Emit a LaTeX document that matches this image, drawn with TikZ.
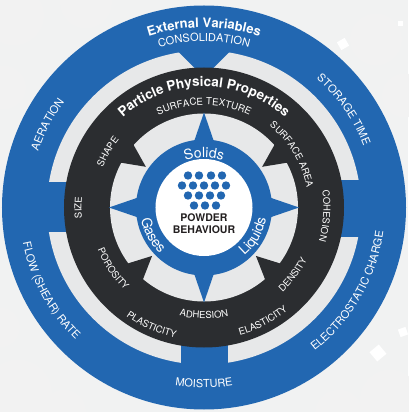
\documentclass[tikz,border=0pt]{standalone}
\usepackage{fontspec}
\setmainfont{TeX Gyre Heros}
\usetikzlibrary{decorations.text}

\definecolor{ringblue}{HTML}{2267B1}
\definecolor{ringdark}{HTML}{2B2D30}
\definecolor{ringgray}{HTML}{E7E8E9}
\definecolor{bggray}{HTML}{F1F2F2}
\definecolor{inkdark}{HTML}{231F20}

% text on a circle: angle, baseline radius, font, text
\newcommand{\cwtext}[4]{%
  \path[decorate,decoration={text along path,text align=center,text color=white,text={|#3|#4}}]
    ({#1+80}:#2) arc[start angle={#1+80},end angle={#1-80},radius=#2];}
\newcommand{\ccwtext}[4]{%
  \path[decorate,decoration={text along path,text align=center,text color=white,text={|#3|#4}}]
    ({#1-80}:#2) arc[start angle={#1-80},end angle={#1+80},radius=#2];}

\begin{document}
\begin{tikzpicture}[x=1pt,y=1pt,
  bokeh/.style={fill=black!5},
  fleck/.style={fill=white},
  pointer/.style={fill=ringblue},
  notch/.style={fill=ringdark},
  grain/.style={circle,fill=ringblue,inner sep=0pt,minimum size=8.4pt}]
  \useasboundingbox[fill=bggray] (-204,-204.5) rectangle (204,207.5);
  % background
  \foreach \x/\y/\r in {-190/192/30pt,-118/205/26pt,-200/120/22pt,172/168/26pt,200/112/22pt,
    -186/-186/34pt,-140/-204/22pt,186/-192/30pt,135/-206/24pt,-204/-120/20pt}
    \fill[bokeh] (\x,\y) circle[radius=\r];
  \foreach \x/\y/\s/\a in {139/163.5/9pt/30,196/183.5/5pt/0,174/-145.5/12pt/40,199/-124.5/8pt/20}
    \fill[fleck,rotate around={\a:(\x,\y)}] (\x,\y) ++(-\s/2,-\s/2) rectangle ++(\s,\s);

  % outer ring
  \fill[ringblue] (0,0) circle[radius=202pt];
  \fill[ringgray] (0,0) circle[radius=157pt];
  \fill[pointer] (-30,160) -- (30,160) -- (8,138) -- (-8,138) -- cycle;
  \fill[pointer] (-160,-25) rectangle (-135,25);
  \fill[pointer] (135,-29) rectangle (160,27);
  \fill[pointer] (-23,-160) rectangle (24,-135);

  % particle ring
  \fill[ringdark] (0,0) circle[radius=140pt];
  \fill[ringgray] (0,0) circle[radius=94pt];
  \foreach \a in {0,90,180,270}
    \fill[pointer,rotate=\a] (95,0) -- (60,12) -- (60,-12) -- cycle;
  \foreach \a in {35,145,223,317}
    \fill[notch,rotate=\a] (71,0) -- (98,13) -- (98,-13) -- cycle;

  % centre
  \fill[ringblue] (0,0) circle[radius=68pt];
  \fill[white] (0,0) circle[radius=48.5pt];
  \foreach \x/\y [count=\i] in {-16/32,-5/32,7/32,18/32,-22/22,-11/22,0/22,11/22,22/22,
    -16/12,-5/12,6/12,17/12,-10/2,1/2,12/2}
    \node[grain] (grain\i) at (\x,\y) {};
  \node[font=\bfseries\fontsize{10.5}{12.5}\selectfont,text=inkdark,align=center] (powder) at (0,-16) {POWDER\\BEHAVIOUR};

  \cwtext{90}{50pt}{\fontsize{14}{16}\selectfont}{Solids}
  \ccwtext{208.5}{64pt}{\fontsize{14}{16}\selectfont}{Gases}
  \ccwtext{330}{63pt}{\fontsize{14}{16}\selectfont}{Liquids}

  % particle physical properties
  \cwtext{90}{121pt}{\bfseries\fontsize{13.5}{15}\selectfont}{Particle Physical Properties}
  \cwtext{90}{102.5pt}{\fontsize{9.7}{11}\selectfont}{SURFACE TEXTURE}
  \cwtext{150}{108.5pt}{\fontsize{9.5}{11}\selectfont}{SHAPE}
  \cwtext{31}{104.5pt}{\fontsize{9.5}{11}\selectfont}{SURFACE AREA}
  \cwtext{180}{122.5pt}{\fontsize{9.5}{11}\selectfont}{SIZE}
  \cwtext{356}{119.5pt}{\fontsize{9.5}{11}\selectfont}{COHESION}
  \ccwtext{214}{114.5pt}{\fontsize{9.5}{11}\selectfont}{POROSITY}
  \ccwtext{246}{133.5pt}{\fontsize{9.5}{11}\selectfont}{PLASTICITY}
  \ccwtext{270}{111pt}{\fontsize{9.5}{11}\selectfont}{ADHESION}
  \ccwtext{297.5}{132.5pt}{\fontsize{9.5}{11}\selectfont}{ELASTICITY}
  \ccwtext{323}{115.5pt}{\fontsize{9.5}{11}\selectfont}{DENSITY}

  % external variables
  \cwtext{90}{180pt}{\bfseries\fontsize{13}{15}\selectfont}{External Variables}
  \cwtext{90}{166pt}{\fontsize{11}{13}\selectfont}{CONSOLIDATION}
  \cwtext{152}{175pt}{\fontsize{11}{13}\selectfont}{AERATION}
  \cwtext{35}{171pt}{\fontsize{11}{13}\selectfont}{STORAGE TIME}
  \ccwtext{208.5}{184.5pt}{\fontsize{11}{13}\selectfont}{FLOW (SHEAR) RATE}
  \ccwtext{330}{181pt}{\fontsize{11}{13}\selectfont}{ELECTROSTATIC CHARGE}
  \ccwtext{270}{180pt}{\fontsize{11}{13}\selectfont}{MOISTURE}
\end{tikzpicture}
\end{document}
